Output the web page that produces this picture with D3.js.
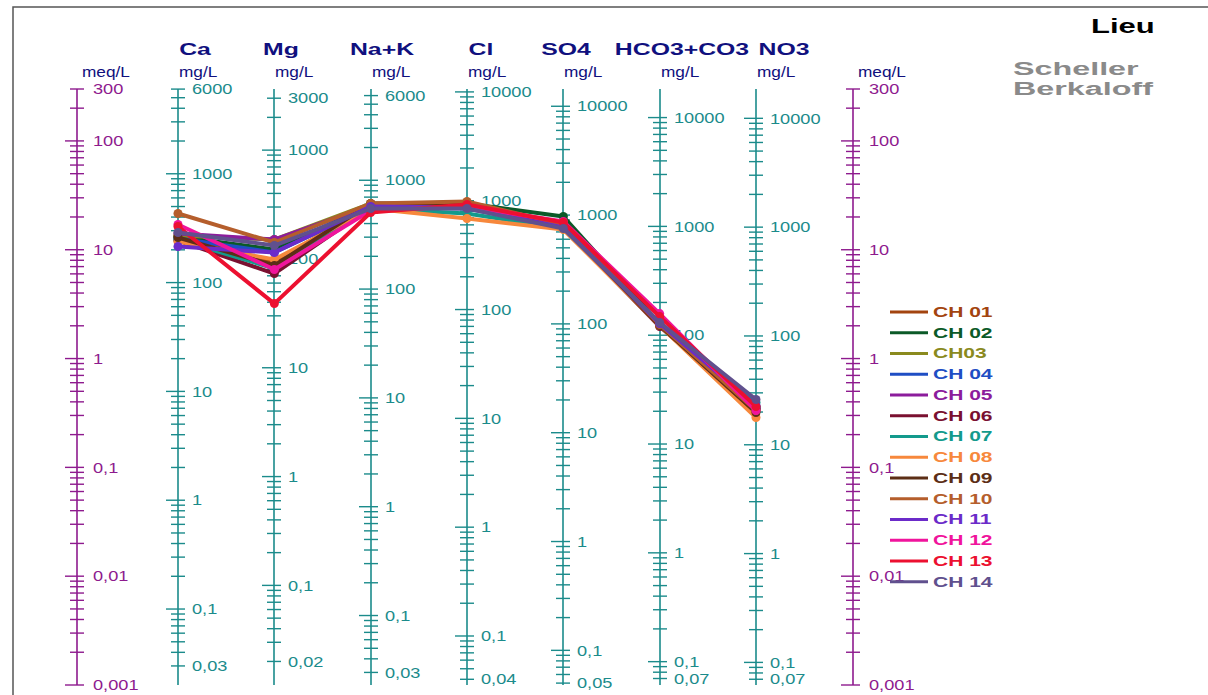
<!DOCTYPE html>
<html><head><meta charset="utf-8">
<script src="https://cdn.jsdelivr.net/npm/d3@7"></script>
<style>html,body{margin:0;padding:0;background:#fff;}svg{display:block;}</style>
</head><body>
<svg id="chart" width="1208" height="695"></svg>
<script>
// ---- data ----
const params = ["Ca", "Mg", "Na+K", "Cl", "SO4", "HCO3+CO3", "NO3"];
const eqWeights = [20.04, 12.15, 22.99, 35.45, 48.03, 61.02, 62.0];
const topTicks = [6000, 3000, 6000, 10000, 10000, 10000, 10000];
const bottomTicks = [0.03, 0.02, 0.03, 0.04, 0.05, 0.07, 0.07];
const meqTop = 300, meqBottom = 0.001;
const meqLabels = [300, 100, 10, 1, 0.1, 0.01, 0.001];
const samples = ["CH 01","CH 02","CH03","CH 04","CH 05","CH 06","CH 07","CH 08","CH 09","CH 10","CH 11","CH 12","CH 13","CH 14"];
// values in meq/L : Ca, Mg, Na+K, Cl, SO4, HCO3+CO3, NO3
const CH01 = [13.22, 7.63, 26.03, 27.15, 16.69, 2.05, 0.333];
const CH02 = [13.22, 10.04, 25.49, 26.59, 20.19, 2.10, 0.362];
const CH03 = [13.51, 12.41, 26.59, 24.95, 16.34, 2.05, 0.347];
const CH04 = [12.68, 9.42, 24.43, 23.92, 15.99, 2.10, 0.354];
const CH05 = [14.09, 12.41, 25.49, 24.43, 15.99, 2.14, 0.347];
const CH06 = [12.15, 6.04, 24.43, 24.95, 15.99, 1.97, 0.340];
const CH07 = [12.41, 6.72, 23.92, 21.51, 15.66, 2.10, 0.394];
const CH08 = [11.90, 8.13, 23.92, 19.36, 15.33, 2.01, 0.287];
const CH09 = [12.95, 7.16, 26.59, 26.59, 16.34, 2.01, 0.319];
const CH10 = [21.51, 11.65, 26.59, 27.73, 17.04, 2.05, 0.333];
const CH11 = [10.70, 9.42, 24.95, 24.43, 15.99, 2.10, 0.370];
const CH12 = [17.04, 6.58, 22.93, 24.95, 18.16, 2.59, 0.333];
const CH13 = [16.34, 3.20, 21.98, 26.03, 17.78, 2.43, 0.362];
const CH14 = [14.39, 10.93, 23.92, 23.92, 15.66, 2.14, 0.420];
const seriesValues = [CH01,CH02,CH03,CH04,CH05,CH06,CH07,CH08,CH09,CH10,CH11,CH12,CH13,CH14];
const colors = ["#A3440F","#0B5A28","#8A8A1E","#1F4EC4","#8C1C9C","#7A1030","#139A8C","#F7883C","#5C2E16","#B55E2C","#6B2BC9","#F0149C","#EC1030","#60508E"];

// ---- layout ----
const axisX = [178, 274, 371, 467, 563, 660, 756];
const meqX = [77, 853];
const titleX = [195, 281, 382, 481, 566, 682, 784];
const yTop = 89, yBottom = 685;
const teal = "#1B8B8B", purple = "#8E1A8E", navy = "#10107E";

const svg = d3.select("#chart");
const y = d3.scaleLog().domain([meqTop, meqBottom]).range([yTop, yBottom]);
const fmt = v => String(v).replace(".", ",");

function stext(g, x, yy, str, o) {
  return g.append("text")
    .attr("transform", `translate(${x},${yy}) scale(${o.sx || 1},1)`)
    .attr("text-anchor", o.anchor || "start")
    .attr("dominant-baseline", o.baseline || "alphabetic")
    .style("font-family", "Liberation Sans, Arial, sans-serif")
    .style("font-size", (o.size || 13) + "px")
    .style("font-weight", o.weight || "normal")
    .style("fill", o.color || "#000")
    .text(str);
}

function logTicks(lo, hi) {
  const out = [];
  for (let e = -4; e <= 5; e++) {
    for (let k = 1; k <= 9; k++) {
      const v = +(k * Math.pow(10, e)).toPrecision(6);
      if (v >= lo * 0.9999 && v <= hi * 1.0001) out.push(v);
    }
  }
  return out;
}
const isDecade = v => Math.abs(Math.log10(v) - Math.round(Math.log10(v))) < 1e-9;

// frame
svg.append("path").attr("d", "M13,700 L13,7 L1215,7")
  .attr("fill", "none").attr("stroke", "#555").attr("stroke-width", 1.5);

// meq axes
meqX.forEach(x => {
  const g = svg.append("g");
  g.append("line").attr("x1", x).attr("x2", x).attr("y1", yTop).attr("y2", yBottom)
    .attr("stroke", purple).attr("stroke-width", 1.6);
  logTicks(meqBottom, meqTop).forEach(v => {
    const big = isDecade(v);
    g.append("line").attr("x1", x - (big ? 12 : 7)).attr("x2", x + 7)
      .attr("y1", y(v)).attr("y2", y(v)).attr("stroke", purple).attr("stroke-width", 1.4);
  });
  meqLabels.forEach(v => stext(g, x + 16, y(v), fmt(v), {sx: 1.3, size: 14, color: purple, baseline: "central"}));
  stext(g, x + 5, 77, "meq/L", {sx: 1.15, size: 15, color: navy});
});

// mg/L axes
params.forEach((p, i) => {
  const x = axisX[i], w = eqWeights[i];
  const ym = v => y(v / w);
  const g = svg.append("g");
  g.append("line").attr("x1", x).attr("x2", x).attr("y1", yTop).attr("y2", yBottom)
    .attr("stroke", teal).attr("stroke-width", 1.6);
  logTicks(bottomTicks[i], topTicks[i]).forEach(v => {
    const big = isDecade(v);
    g.append("line").attr("x1", x - (big ? 12 : 7)).attr("x2", x + 7)
      .attr("y1", ym(v)).attr("y2", ym(v)).attr("stroke", teal).attr("stroke-width", 1.4);
  });
  const labs = [topTicks[i]].concat(logTicks(bottomTicks[i], topTicks[i]).filter(v => isDecade(v) && v !== topTicks[i]).reverse());
  if (labs.indexOf(bottomTicks[i]) < 0) labs.push(bottomTicks[i]);
  labs.forEach(v => stext(g, x + 14, ym(v), fmt(v), {sx: 1.3, size: 14, color: teal, baseline: "central"}));
  stext(g, x + 1, 77, "mg/L", {sx: 1.15, size: 15, color: navy});
  stext(g, titleX[i], 55, p, {sx: 1.55, size: 16, weight: "bold", color: navy, anchor: "middle"});
});

// data lines
const xs = d3.scalePoint().domain(params).range([axisX[0], axisX[axisX.length - 1]]);
const line = d3.line().x((d, i) => xs(params[i])).y(d => y(d));
seriesValues.forEach((vals, s) => {
  const g = svg.append("g");
  g.append("path").datum(vals).attr("d", line).attr("fill", "none")
    .attr("stroke", colors[s]).attr("stroke-width", 4).attr("stroke-linejoin", "round");
  g.selectAll("circle").data(vals).join("circle")
    .attr("cx", (d, i) => xs(params[i])).attr("cy", d => y(d)).attr("r", 4.5)
    .attr("fill", colors[s]);
});

// legend
const lg = svg.append("g");
samples.forEach((name, s) => {
  const yy = 312 + s * 20.75;
  lg.append("line").attr("x1", 890).attr("x2", 928).attr("y1", yy).attr("y2", yy)
    .attr("stroke", colors[s]).attr("stroke-width", 3);
  stext(lg, 933, yy, name, {sx: 1.45, size: 14.5, weight: "bold", color: colors[s], baseline: "central"});
});

// titles
stext(svg, 1091, 33, "Lieu", {sx: 1.55, size: 20, weight: "bold", color: "#000"});
stext(svg, 1013, 75, "Scheller", {sx: 1.7, size: 19, weight: "bold", color: "#8a8a8a"});
stext(svg, 1013, 95, "Berkaloff", {sx: 1.7, size: 19, weight: "bold", color: "#8a8a8a"});
</script>
</body></html>
